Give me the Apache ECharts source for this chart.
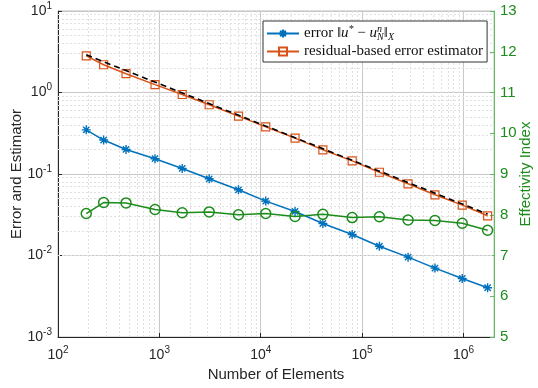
<!DOCTYPE html>
<html><head><meta charset="utf-8">
<script src="https://cdn.jsdelivr.net/npm/echarts@6/dist/echarts.min.js"></script>
<style>html,body{margin:0;padding:0;background:#fff}#c{width:538px;height:388px}</style>
</head><body><div id="c"></div>
<script>
const elements = [190, 282, 469, 906, 1680, 3100, 6030, 11200, 21800, 41000, 79800, 148000, 284000, 523000, 972000, 1730000];
const errorVals = [0.348, 0.261, 0.200, 0.154, 0.117, 0.0873, 0.0640, 0.0465, 0.0347, 0.0247, 0.0181, 0.0130, 0.00955, 0.00700, 0.00522, 0.00402];
const estimatorVals = [2.82, 2.19, 1.70, 1.25, 0.945, 0.707, 0.513, 0.379, 0.276, 0.198, 0.145, 0.105, 0.0758, 0.0556, 0.0415, 0.0307];
const effectivityVals = [8.03, 8.30, 8.29, 8.13, 8.05, 8.07, 8.00, 8.03, 7.96, 8.01, 7.93, 7.95, 7.87, 7.86, 7.79, 7.62];
const refX = [190, 1730000];
const refY = [2.90, 0.0322];
const xMinor = [200,300,400,500,600,700,800,900,2000,3000,4000,5000,6000,7000,8000,9000,20000,30000,40000,50000,60000,70000,80000,90000,200000,300000,400000,500000,600000,700000,800000,900000];
const yMinor = [];
[0.001,0.01,0.1,1].forEach(d=>{for(let k=2;k<=9;k++) yMinor.push(+(d*k).toPrecision(3));});

const chart = echarts.init(document.getElementById('c'));
const sans = 'Liberation Sans, Arial, sans-serif';
const serif = 'Liberation Serif, Times New Roman, serif';
const green = '#1c8c1c';
const blue = '#0072BD';
const orange = '#D95319';
function powLabel(v){
  const e = Math.log10(v);
  if (Math.abs(e - Math.round(e)) > 1e-6) return '';
  return '{b|10}{s|' + Math.round(e) + '}';
}
const powRich = {b:{fontSize:14, fontFamily:sans, color:'#262626'}, s:{fontSize:10, fontFamily:sans, color:'#262626', padding:[0,0,10,0]}};
const asterisk = 'path://M0,-1L0,1M-1,0L1,0M-0.7,-0.7L0.7,0.7M-0.7,0.7L0.7,-0.7';

const minorLines = xMinor.map(v=>({xAxis:v})).concat(yMinor.map(v=>({yAxis:v})));

chart.setOption({
  animation:false,
  backgroundColor:'#fff',
  grid:{left:58, right:44, top:11, bottom:51, outerBoundsMode:'none', containLabel:false, show:true, borderColor:'#bdbdbd', borderWidth:1},
  legend:{
    orient:'vertical', left:263, top:21, itemWidth:32, itemHeight:10, itemGap:2, zlevel:2,
    padding:[3,4,3,3], borderColor:'#333', borderWidth:1, backgroundColor:'#fff',
    data:['error','residual-based error estimator'],
    formatter:function(n){
      if(n==='error') return '{t|error ‖}{i|u}{sp|*}{t| − }{i|u}{sp|n}{sbx|N}{t|‖}{sb|X}';
      return '{t|residual-based error estimator}';
    },
    textStyle:{fontFamily:serif, fontSize:15, color:'#111',
      rich:{t:{fontFamily:serif,fontSize:15,color:'#111'},
            i:{fontFamily:serif,fontSize:15,fontStyle:'italic',color:'#111'},
            sp:{fontFamily:serif,fontSize:10,fontStyle:'italic',color:'#111',padding:[0,0,9,0]},
            sbx:{fontFamily:serif,fontSize:10,fontStyle:'italic',color:'#111',padding:[7,0,0,-5]},
            sb:{fontFamily:serif,fontSize:10,fontStyle:'italic',color:'#111',padding:[7,0,0,0]}}}
  },
  xAxis:{type:'log', logBase:10, min:100, max:2000000,
    name:'Number of Elements', nameLocation:'middle', nameGap:30, nameMoveOverlap:false,
    nameTextStyle:{fontFamily:sans, fontSize:15, color:'#262626'},
    axisLine:{lineStyle:{color:'#262626'}}, axisTick:{inside:true, length:4, lineStyle:{color:'#262626'}},
    axisLabel:{formatter:powLabel, rich:powRich, margin:8, showMaxLabel:false},
    splitLine:{show:true, lineStyle:{color:'#c8c8c8'}}},
  yAxis:[
    {type:'log', logBase:10, min:0.001, max:10,
     name:'Error and Estimator', nameLocation:'middle', nameGap:34, nameMoveOverlap:false,
     nameTextStyle:{fontFamily:sans, fontSize:15, color:'#262626'},
     axisLine:{show:true, lineStyle:{color:'#262626'}}, axisTick:{show:true, inside:true, length:4},
     axisLabel:{formatter:powLabel, rich:powRich, margin:6},
     splitLine:{show:true, lineStyle:{color:'#c8c8c8'}}},
    {type:'value', min:5, max:13, interval:1, position:'right',
     name:'Effectivity Index', nameLocation:'middle', nameGap:24, nameRotate:90, nameMoveOverlap:false,
     nameTextStyle:{fontFamily:sans, fontSize:15, color:green},
     axisLine:{show:true, lineStyle:{color:'#5fbf5f'}}, axisTick:{show:true, inside:true, length:4, lineStyle:{color:'#5fbf5f'}},
     axisLabel:{color:green, fontFamily:sans, fontSize:15, margin:6},
     splitLine:{show:false}}
  ],
  series:[
    {type:'line', name:'minor', data:[], silent:true, z:0, zlevel:0,
     markLine:{silent:true, symbol:'none', label:{show:false}, animation:false,
       lineStyle:{color:'#e0e0e0', type:[2,2], width:1}, data:minorLines}},
    {type:'line', name:'ref', data:refX.map((x,i)=>[x,refY[i]]), showSymbol:false, symbol:'none', zlevel:1,
     lineStyle:{color:'#000', width:1.6, type:[6,4]}, z:3},
    {type:'line', name:'error', data:elements.map((x,i)=>[x,errorVals[i]]), zlevel:1,
     symbol:asterisk, symbolSize:9, color:blue,
     itemStyle:{color:'rgba(0,0,0,0)', borderColor:blue, borderWidth:1.4},
     lineStyle:{color:blue, width:1.5, type:'solid'}, z:4},
    {type:'line', name:'residual-based error estimator', data:elements.map((x,i)=>[x,estimatorVals[i]]), zlevel:1,
     symbol:'rect', symbolSize:8, color:orange,
     itemStyle:{color:'rgba(255,255,255,0)', borderColor:orange, borderWidth:1.2},
     lineStyle:{color:orange, width:1.5, type:'solid'}, z:2},
    {type:'line', name:'effectivity', yAxisIndex:1, data:elements.map((x,i)=>[x,effectivityVals[i]]), zlevel:1,
     symbol:'circle', symbolSize:10, color:green,
     itemStyle:{color:'rgba(255,255,255,0)', borderColor:green, borderWidth:1.5},
     lineStyle:{color:green, width:1.5, type:'solid'}, z:4}
  ]
});
</script></body></html>
